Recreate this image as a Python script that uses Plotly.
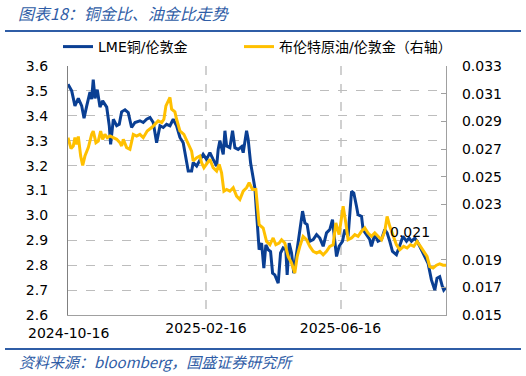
import pandas as pd
import plotly.graph_objects as go

START = "2024-10-16"
END = "2025-09-18"

# LME copper / London gold (left axis): day offset from START, value
cu_days = [0,3.3,6.2,9.2,12.2,14.3,16.7,19.6,21.1,22.5,
           24.1,26.1,28.5,30.9,34.5,36.8,38.0,40.4,43.4,45.7,
           47.8,50.8,53.7,56.7,59.7,64.1,67.1,70.1,73.1,76.0,
           79.0,82.0,84.9,87.9,90.9,93.8,96.8,99.8,102.7,105.1,
           107.2,110.2,111.6,114.7,117.6,120.5,123.5,126.5,129.4,132.5,
           133.9,135.4,138.4,139.9,141.4,144.3,146.7,148.8,151.7,154.8,
           156.2,159.2,160.6,162.8,165.1,166.6,168.1,170.4,172.6,174.6,
           176.4,178.5,180.6,182.4,184.4,187.4,189.5,191.8,194.2,195.4,
           197.2,199.3,201.3,203.8,206.1,209.1,211.2,213.2,215.6,218.6,
           221.6,224.5,227.5,230.5,233.4,235.8,237.9,239.4,241.7,244.7,
           246.8,249.7,252.8,254.8,257.2,258.6,261.7,263.1,266.1,269.0,
           270.5,273.5,276.4,279.5,282.4,284.5,286.9,289.3,292.8,295.8,
           298.7,301.8,304.1,306.2,309.2,312.1,315.1,318.1,321.0,324.0,
           327.0,329.0,331.4,333.8,335.0,337.0]
cu_vals = [3.527,3.50,3.44,3.47,3.44,3.39,3.44,3.495,3.467,3.545,
           3.47,3.505,3.435,3.46,3.435,3.36,3.285,3.386,3.36,3.366,
           3.416,3.424,3.413,3.353,3.373,3.38,3.373,3.386,3.393,3.373,
           3.292,3.36,3.353,3.366,3.36,3.386,3.36,3.313,3.292,3.225,
           3.178,3.178,3.212,3.198,3.225,3.245,3.225,3.252,3.225,3.198,
           3.265,3.30,3.245,3.34,3.279,3.272,3.34,3.272,3.265,3.276,
           3.252,3.34,3.306,3.21,3.15,3.11,3.01,2.862,2.889,2.788,
           2.882,2.862,2.855,2.768,2.761,2.728,2.849,2.869,2.862,2.761,
           2.889,2.849,2.768,2.849,2.916,3.017,2.97,2.963,2.896,2.903,
           2.923,2.909,2.876,2.93,2.943,2.983,2.896,2.835,2.876,2.896,
           2.943,2.916,3.097,3.09,3.037,3.003,2.996,2.943,2.923,2.903,
           2.876,2.923,2.896,2.903,2.943,2.93,2.896,2.855,2.842,2.876,
           2.916,2.896,2.909,2.896,2.909,2.889,2.862,2.835,2.808,2.741,
           2.70,2.748,2.754,2.714,2.70,2.71]

# Brent crude / London gold (right axis)
oil_days = [0,2.7,4.7,6.2,7.8,9.2,11.3,13.1,15.1,18.1,
            21.1,22.5,24.9,27.0,29.1,30.9,32.9,35.0,37.4,40.4,
            43.4,46.3,47.8,49.3,52.3,55.2,58.2,61.2,64.1,67.1,
            70.6,74.6,77.5,80.4,83.5,85.5,87.3,90.9,92.4,95.3,
            96.8,99.8,103.3,107.2,110.2,111.6,114.7,117.6,119.1,121.2,
            123.6,126.5,129.4,132.5,134.8,136.9,139.0,141.4,144.3,147.3,
            150.3,153.2,156.2,159.2,161.5,164.5,167.5,168.7,170.4,174.0,
            177.0,180.0,182.9,185.3,188.2,190.4,193.3,196.3,199.3,202.2,
            204.3,206.7,209.6,212.7,215.6,218.6,221.6,224.5,227.5,230.5,
            233.4,236.4,238.8,241.7,243.8,245.3,247.7,249.7,252.8,255.7,
            258.6,261.7,264.6,267.5,270.5,273.5,276.4,279.5,282.4,284.5,
            286.9,289.8,292.8,295.8,299.3,302.3,305.3,308.3,311.2,314.2,
            317.2,320.1,322.5,325.5,328.5,331.4,334.4,337.0]
oil_vals = [0.02782,0.02703,0.02722,0.02782,0.02734,0.0279,0.02649,0.02581,0.02649,0.0271,
            0.02806,0.0283,0.02746,0.02758,0.0283,0.0277,0.02806,0.02782,0.02794,0.02782,
            0.0277,0.02746,0.02722,0.0277,0.0271,0.02698,0.02806,0.02794,0.02806,0.02782,
            0.0283,0.02855,0.02879,0.02903,0.02891,0.02915,0.03012,0.03073,0.02988,0.02968,
            0.02915,0.0283,0.02806,0.02734,0.02685,0.02613,0.02637,0.02649,0.02601,0.02565,
            0.02589,0.02625,0.02565,0.0254,0.02589,0.02528,0.02395,0.02407,0.02395,0.0242,
            0.02359,0.02335,0.02395,0.0242,0.02456,0.02407,0.02407,0.02311,0.02153,0.02129,
            0.02032,0.02008,0.02057,0.02008,0.0202,0.02044,0.0202,0.01923,0.01875,0.01803,
            0.01923,0.01996,0.02068,0.02044,0.01996,0.0196,0.01948,0.0196,0.01935,0.0196,
            0.01996,0.02008,0.02165,0.02081,0.02213,0.02286,0.02165,0.02044,0.02057,0.02081,
            0.02069,0.02105,0.02129,0.02093,0.02069,0.02093,0.02069,0.02044,0.02105,0.02213,
            0.02141,0.02069,0.02008,0.01972,0.01996,0.01984,0.02008,0.01996,0.02032,0.01996,
            0.0196,0.01923,0.0185,0.0184,0.0186,0.0187,0.0186,0.0186]

x_tickvals = ["2024-10-16", "2025-02-16", "2025-06-16"]
x_ticktext = ["2024-10-16", "2025-02-16", "2025-06-16"]
y_ticks = [2.6, 2.7, 2.8, 2.9, 3.0, 3.1, 3.2, 3.3, 3.4, 3.5, 3.6]
y2_ticks = [0.015, 0.017, 0.019, 0.023, 0.025, 0.027, 0.029, 0.031, 0.033]
label_date, label_value, label_text = "2025-08-17", 0.021, "0.021"

name_cu = "LME铜/伦敦金"
name_oil = "布伦特原油/伦敦金（右轴）"
title_text = "图表18：铜金比、油金比走势"
source_text = "资料来源：bloomberg，国盛证券研究所"

start = pd.Timestamp(START)
cu_dates = [start + pd.to_timedelta(d, unit="D") for d in cu_days]
oil_dates = [start + pd.to_timedelta(d, unit="D") for d in oil_days]

BLUE = "#0A3F93"
YELLOW = "#FFC000"
HEAD = "#2F5DA6"
FONT = "DejaVu Sans, Noto Sans CJK SC, sans-serif"
CJK = "Noto Sans CJK SC, sans-serif"

fig = go.Figure()
fig.add_trace(go.Scatter(x=cu_dates, y=cu_vals, name=name_cu, mode="lines",
                         line=dict(color=BLUE, width=3), legend="legend"))
fig.add_trace(go.Scatter(x=oil_dates, y=oil_vals, name=name_oil, mode="lines",
                         line=dict(color=YELLOW, width=3), yaxis="y2", legend="legend2"))

W, H = 526, 376
L, R, T, B = 68, 80, 66, 61
pw, ph = W - L - R, H - T - B

def px(x):
    return (x - L) / pw

def py(y):
    return (H - B - y) / ph

legend_style = dict(orientation="h", xanchor="left", yanchor="middle",
                    font=dict(family=FONT, size=14, color="black"),
                    bgcolor="rgba(0,0,0,0)")

# first x tick label is drawn as an annotation centred on the axis start
first_label = x_ticktext[0]
axis_ticktext = [""] + x_ticktext[1:]

fig.update_layout(
    width=W, height=H,
    margin=dict(l=L, r=R, t=T, b=B),
    paper_bgcolor="white", plot_bgcolor="white",
    font=dict(family=FONT, size=14, color="black"),
    showlegend=True,
    legend=dict(x=px(58), y=py(47), **legend_style),
    legend2=dict(x=px(239), y=py(47), **legend_style),
    xaxis=dict(type="date", range=[START, END], tickvals=x_tickvals, ticktext=axis_ticktext,
               showgrid=True, gridcolor="#D0D0D0", griddash="dash", gridwidth=1.5,
               showline=True, linecolor="#A0A0A0", linewidth=1.2, ticks="",
               tickfont=dict(size=14), zeroline=False),
    yaxis=dict(range=[2.6, 3.6], tickvals=y_ticks, tickformat=".1f",
               showgrid=True, gridcolor="#BDBDBD", griddash="dash", gridwidth=1,
               showline=True, linecolor="#808080", linewidth=1.2, ticks="",
               tickfont=dict(size=14), ticklabelstandoff=16, zeroline=False),
    yaxis2=dict(range=[0.015, 0.033], tickvals=y2_ticks, tickformat=".3f",
                overlaying="y", side="right", showgrid=False,
                showline=True, linecolor="#A0A0A0", linewidth=1.2,
                ticks="inside", ticklen=5, tickcolor="#A0A0A0",
                tickfont=dict(size=14), ticklabelstandoff=12, zeroline=False),
    annotations=[
        dict(text=title_text, xref="paper", yref="paper", x=px(16), y=py(13),
             xanchor="left", yanchor="middle", showarrow=False,
             font=dict(family=CJK, size=16, color=HEAD, style="italic")),
        dict(text=source_text, xref="paper", yref="paper", x=px(17), y=py(361),
             xanchor="left", yanchor="middle", showarrow=False,
             font=dict(family=CJK, size=15, color=HEAD, style="italic")),
        dict(text=label_text, x=label_date, y=label_value, xref="x", yref="y2",
             showarrow=False, font=dict(size=14, color="black")),
        dict(text=first_label, x=x_tickvals[0], xref="x", yref="paper", y=py(333),
             xanchor="center", yanchor="middle", showarrow=False,
             font=dict(size=14, color="black")),
    ],
    shapes=[
        dict(type="line", xref="paper", yref="paper", x0=px(5), x1=px(521), y0=py(31), y1=py(31),
             line=dict(color=HEAD, width=2)),
        dict(type="line", xref="paper", yref="paper", x0=px(5), x1=px(521), y0=py(349), y1=py(349),
             line=dict(color=HEAD, width=2)),
    ],
)

fig.write_html("out.html", config={"displayModeBar": False},
               post_script="document.body.style.margin='0';document.body.style.overflow='hidden';")
